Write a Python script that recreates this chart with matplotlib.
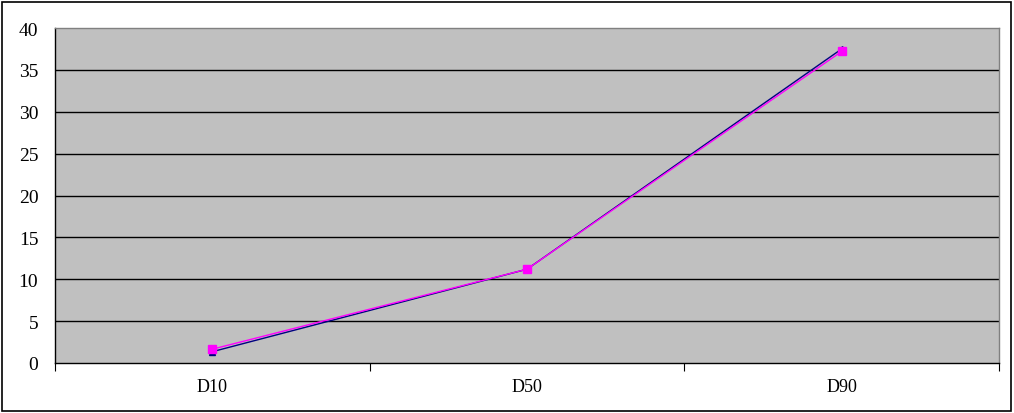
import matplotlib
matplotlib.use("Agg")
import matplotlib.pyplot as plt
from matplotlib.patches import Rectangle

categories = ["D10", "D50", "D90"]
series_a = [1.35, 11.2, 37.5]   # navy, triangle markers
series_b = [1.65, 11.2, 37.2]   # magenta, square markers
y_ticks = [0, 5, 10, 15, 20, 25, 30, 35, 40]

W, H = 1014, 414
fig = plt.figure(figsize=(W / 100, H / 100), dpi=100)
fig.patch.set_facecolor("white")
fig.patches.append(Rectangle((2 / W, 2 / H), 1009 / W, 409 / H, transform=fig.transFigure,
                             fill=False, edgecolor="black", linewidth=1.2))

l, r, t, b = 55, 999, 29, 364
ax = fig.add_axes([l / W, 1 - b / H, (r - l) / W, (b - t) / H])
ax.set_facecolor("#C0C0C0")
x = list(range(len(categories)))
ax.set_xlim(-0.5, len(categories) - 0.5)
ax.set_ylim(0, 40)

for yv in y_ticks[1:-1]:
    ax.axhline(yv, color="black", linewidth=1.0, zorder=1)

ax.plot(x, series_a, color="#000080", linewidth=1.0, marker="^", markersize=5,
        markerfacecolor="#000080", markeredgecolor="#000080", zorder=3)
ax.plot(x, series_b, color="#FF00FF", linewidth=1.0, marker="s", markersize=6,
        markerfacecolor="#FF00FF", markeredgecolor="#FF00FF", zorder=4)

ax.spines["left"].set_color("black")
ax.spines["bottom"].set_color("black")
ax.spines["top"].set_color("#808080")
ax.spines["right"].set_color("#808080")
for s in ax.spines.values():
    s.set_linewidth(1.0)

ax.set_yticks(y_ticks)
ax.set_yticklabels([str(v) for v in y_ticks], family="Liberation Serif", fontsize=14)
ax.tick_params(axis="y", length=0, pad=12)

ax.set_xticks([i + 0.5 for i in range(-1, len(categories))])
ax.set_xticklabels([])
ax.set_xticks(x, minor=True)
ax.set_xticklabels(categories, minor=True, family="Liberation Serif", fontsize=13)
ax.tick_params(axis="x", which="major", length=6, direction="out", color="black")
ax.tick_params(axis="x", which="minor", length=0, pad=11)

fig.savefig("out.png", dpi=100)
